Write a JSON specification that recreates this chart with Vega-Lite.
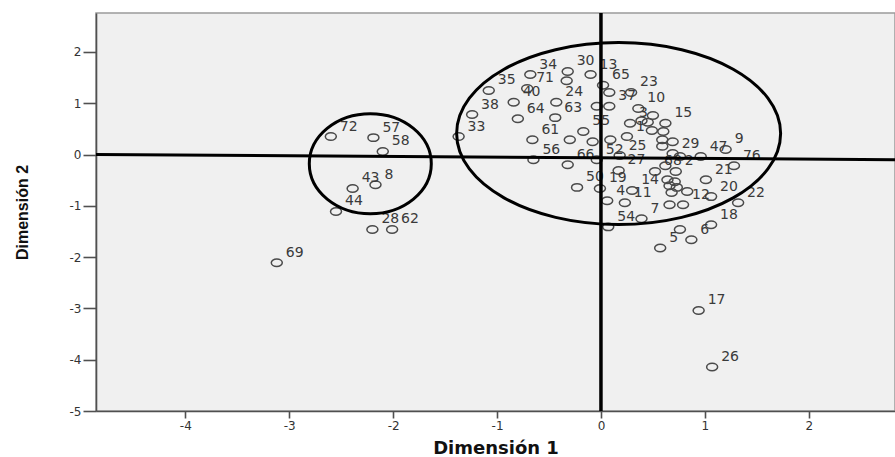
{
  "$schema": "https://vega.github.io/schema/vega-lite/v6.json",
  "width": 799,
  "height": 398,
  "autosize": {"type": "none"},
  "padding": {"left": 96, "top": 13, "right": 0, "bottom": 46},
  "background": "white",
  "config": {
    "view": {"fill": "#f0f0f0", "stroke": "#9a9a9a", "strokeWidth": 1.5},
    "axis": {
      "grid": false,
      "domainColor": "#505050",
      "domainWidth": 1.6,
      "tickColor": "#505050",
      "tickWidth": 1.6,
      "labelFont": "DejaVu Sans",
      "labelFontSize": 12,
      "labelColor": "#333333",
      "titleColor": "#111111"
    }
  },
  "datasets": {
    "puntos": [
      {"etiqueta": "72", "d1": -2.60, "d2": 0.35},
      {"etiqueta": "57", "d1": -2.19, "d2": 0.33},
      {"etiqueta": "58", "d1": -2.10, "d2": 0.06},
      {"etiqueta": "8", "d1": -2.17, "d2": -0.59},
      {"etiqueta": "43", "d1": -2.39, "d2": -0.66},
      {"etiqueta": "44", "d1": -2.55, "d2": -1.11},
      {"etiqueta": "28", "d1": -2.20, "d2": -1.46},
      {"etiqueta": "62", "d1": -2.01, "d2": -1.46},
      {"etiqueta": "69", "d1": -3.12, "d2": -2.11},
      {"etiqueta": "30", "d1": -0.32, "d2": 1.62},
      {"etiqueta": "13", "d1": -0.10, "d2": 1.56},
      {"etiqueta": "34", "d1": -0.68, "d2": 1.56},
      {"etiqueta": "71", "d1": -0.71, "d2": 1.29},
      {"etiqueta": "35", "d1": -1.08, "d2": 1.25},
      {"etiqueta": "65", "d1": 0.02, "d2": 1.35},
      {"etiqueta": "23", "d1": 0.29, "d2": 1.21},
      {"etiqueta": "40", "d1": -0.84, "d2": 1.02},
      {"etiqueta": "24", "d1": -0.43, "d2": 1.02},
      {"etiqueta": "37", "d1": 0.08, "d2": 0.94},
      {"etiqueta": "10", "d1": 0.36, "d2": 0.90},
      {"etiqueta": "38", "d1": -1.24, "d2": 0.78},
      {"etiqueta": "64", "d1": -0.80, "d2": 0.70},
      {"etiqueta": "63", "d1": -0.44, "d2": 0.72},
      {"etiqueta": "15", "d1": 0.62, "d2": 0.61},
      {"etiqueta": "3", "d1": 0.28, "d2": 0.61},
      {"etiqueta": "55", "d1": -0.17, "d2": 0.45},
      {"etiqueta": "33", "d1": -1.37, "d2": 0.35},
      {"etiqueta": "61", "d1": -0.66, "d2": 0.29},
      {"etiqueta": "1", "d1": 0.25, "d2": 0.35},
      {"etiqueta": "29", "d1": 0.69, "d2": 0.02},
      {"etiqueta": "47", "d1": 0.96, "d2": -0.04},
      {"etiqueta": "9", "d1": 1.20, "d2": 0.10},
      {"etiqueta": "25", "d1": 0.18, "d2": -0.02},
      {"etiqueta": "52", "d1": -0.04, "d2": -0.10},
      {"etiqueta": "56", "d1": -0.65, "d2": -0.10},
      {"etiqueta": "66", "d1": -0.32, "d2": -0.20},
      {"etiqueta": "76", "d1": 1.28, "d2": -0.22},
      {"etiqueta": "27", "d1": 0.17, "d2": -0.31},
      {"etiqueta": "68", "d1": 0.52, "d2": -0.33},
      {"etiqueta": "2", "d1": 0.72, "d2": -0.33},
      {"etiqueta": "21", "d1": 1.01, "d2": -0.49},
      {"etiqueta": "50", "d1": -0.23, "d2": -0.64},
      {"etiqueta": "19", "d1": -0.01, "d2": -0.66},
      {"etiqueta": "14", "d1": 0.30, "d2": -0.70},
      {"etiqueta": "20", "d1": 1.06, "d2": -0.82},
      {"etiqueta": "22", "d1": 1.32, "d2": -0.94},
      {"etiqueta": "4", "d1": 0.06, "d2": -0.90},
      {"etiqueta": "11", "d1": 0.23, "d2": -0.94},
      {"etiqueta": "12", "d1": 0.79, "d2": -0.98},
      {"etiqueta": "7", "d1": 0.39, "d2": -1.25},
      {"etiqueta": "54", "d1": 0.07, "d2": -1.41},
      {"etiqueta": "18", "d1": 1.06, "d2": -1.37},
      {"etiqueta": "6", "d1": 0.87, "d2": -1.66},
      {"etiqueta": "5", "d1": 0.57, "d2": -1.82},
      {"etiqueta": "17", "d1": 0.94, "d2": -3.04},
      {"etiqueta": "26", "d1": 1.07, "d2": -4.14},
      {"etiqueta": "", "d1": -0.33, "d2": 1.44},
      {"etiqueta": "", "d1": 0.08, "d2": 1.21},
      {"etiqueta": "", "d1": -0.04, "d2": 0.94},
      {"etiqueta": "", "d1": -0.30, "d2": 0.29},
      {"etiqueta": "", "d1": -0.08, "d2": 0.25},
      {"etiqueta": "", "d1": 0.09, "d2": 0.29},
      {"etiqueta": "", "d1": 0.39, "d2": 0.66},
      {"etiqueta": "", "d1": 0.45, "d2": 0.63},
      {"etiqueta": "", "d1": 0.50, "d2": 0.76},
      {"etiqueta": "", "d1": 0.49, "d2": 0.47},
      {"etiqueta": "", "d1": 0.60, "d2": 0.45},
      {"etiqueta": "", "d1": 0.59, "d2": 0.29},
      {"etiqueta": "", "d1": 0.69, "d2": 0.25},
      {"etiqueta": "", "d1": 0.59, "d2": 0.16},
      {"etiqueta": "", "d1": 0.76, "d2": -0.04},
      {"etiqueta": "", "d1": 0.62, "d2": -0.22},
      {"etiqueta": "", "d1": 0.64, "d2": -0.49},
      {"etiqueta": "", "d1": 0.71, "d2": -0.53},
      {"etiqueta": "", "d1": 0.66, "d2": -0.61},
      {"etiqueta": "", "d1": 0.73, "d2": -0.64},
      {"etiqueta": "", "d1": 0.68, "d2": -0.74},
      {"etiqueta": "", "d1": 0.83, "d2": -0.72},
      {"etiqueta": "", "d1": 0.66, "d2": -0.98},
      {"etiqueta": "", "d1": 0.76, "d2": -1.46}
    ],
    "grupo_grande": [{"d1": 0.17, "d2": 0.41}],
    "grupo_chico": [{"d1": -2.22, "d2": -0.18}],
    "eje_h": [{"d1": -4.86, "d1_fin": 2.83, "d2": 0, "d2_fin": -0.1}],
    "eje_v": [{"d1": 0}]
  },
  "layer": [
    {
      "data": {"name": "puntos"},
      "mark": {
        "type": "point",
        "shape": "M1,0C1,0.3756,0.5523,0.68,0,0.68C-0.5523,0.68,-1,0.3756,-1,0C-1,-0.3756,-0.5523,-0.68,0,-0.68C0.5523,-0.68,1,-0.3756,1,0Z",
        "size": 121,
        "filled": false,
        "stroke": "#4a4a4a",
        "strokeWidth": 1.5,
        "opacity": 1
      },
      "encoding": {
        "x": {
          "field": "d1",
          "type": "quantitative",
          "scale": {"domain": [-4.86, 2.83], "nice": false, "zero": false},
          "axis": {
            "title": "Dimensión 1",
            "values": [-4, -3, -2, -1, 0, 1, 2],
            "format": "d",
            "labelExpr": "replace(datum.label, '−', '-')",
            "tickSize": 7,
            "labelPadding": 2,
            "titleFont": "DejaVu Sans",
            "titleFontWeight": "bold",
            "titleFontSize": 18,
            "titleY": 42,
            "titleBaseline": "alphabetic"
          }
        },
        "y": {
          "field": "d2",
          "type": "quantitative",
          "scale": {"domain": [-5, 2.76], "nice": false, "zero": false},
          "axis": {
            "title": "Dimensión 2",
            "values": [-5, -4, -3, -2, -1, 0, 1, 2],
            "format": "d",
            "labelExpr": "replace(datum.label, '−', '-')",
            "tickSize": 13,
            "labelPadding": 2,
            "titleFont": "Liberation Sans",
            "titleFontWeight": "bold",
            "titleFontSize": 16,
            "titleAngle": 270,
            "titleX": -74,
            "titleY": 199,
            "titleAlign": "center",
            "titleBaseline": "middle"
          }
        }
      }
    },
    {
      "data": {"name": "puntos"},
      "mark": {
        "type": "text",
        "align": "left",
        "baseline": "middle",
        "dx": 9,
        "dy": -10,
        "font": "DejaVu Sans",
        "fontSize": 14,
        "color": "#3a3a3a"
      },
      "encoding": {
        "x": {"field": "d1", "type": "quantitative"},
        "y": {"field": "d2", "type": "quantitative"},
        "text": {"field": "etiqueta", "type": "nominal"}
      }
    },
    {
      "data": {"name": "grupo_grande"},
      "mark": {
        "type": "point",
        "shape": "M1,0C1,0.3102,0.5523,0.5617,0,0.5617C-0.5523,0.5617,-1,0.3102,-1,0C-1,-0.3102,-0.5523,-0.5617,0,-0.5617C0.5523,-0.5617,1,-0.3102,1,0Z",
        "size": 104976,
        "filled": false,
        "stroke": "black",
        "strokeWidth": 3,
        "opacity": 1
      },
      "encoding": {
        "x": {"field": "d1", "type": "quantitative"},
        "y": {"field": "d2", "type": "quantitative"}
      }
    },
    {
      "data": {"name": "grupo_chico"},
      "mark": {
        "type": "point",
        "shape": "M1,0C1,0.4529,0.5523,0.82,0,0.82C-0.5523,0.82,-1,0.4529,-1,0C-1,-0.4529,-0.5523,-0.82,0,-0.82C0.5523,-0.82,1,-0.4529,1,0Z",
        "size": 14884,
        "filled": false,
        "stroke": "black",
        "strokeWidth": 3,
        "opacity": 1
      },
      "encoding": {
        "x": {"field": "d1", "type": "quantitative"},
        "y": {"field": "d2", "type": "quantitative"}
      }
    },
    {
      "data": {"name": "eje_h"},
      "mark": {"type": "rule", "color": "black", "strokeWidth": 3},
      "encoding": {
        "x": {"field": "d1", "type": "quantitative"},
        "x2": {"field": "d1_fin"},
        "y": {"field": "d2", "type": "quantitative"},
        "y2": {"field": "d2_fin"}
      }
    },
    {
      "data": {"name": "eje_v"},
      "mark": {"type": "rule", "color": "black", "strokeWidth": 3.5},
      "encoding": {
        "x": {"field": "d1", "type": "quantitative"}
      }
    }
  ]
}
